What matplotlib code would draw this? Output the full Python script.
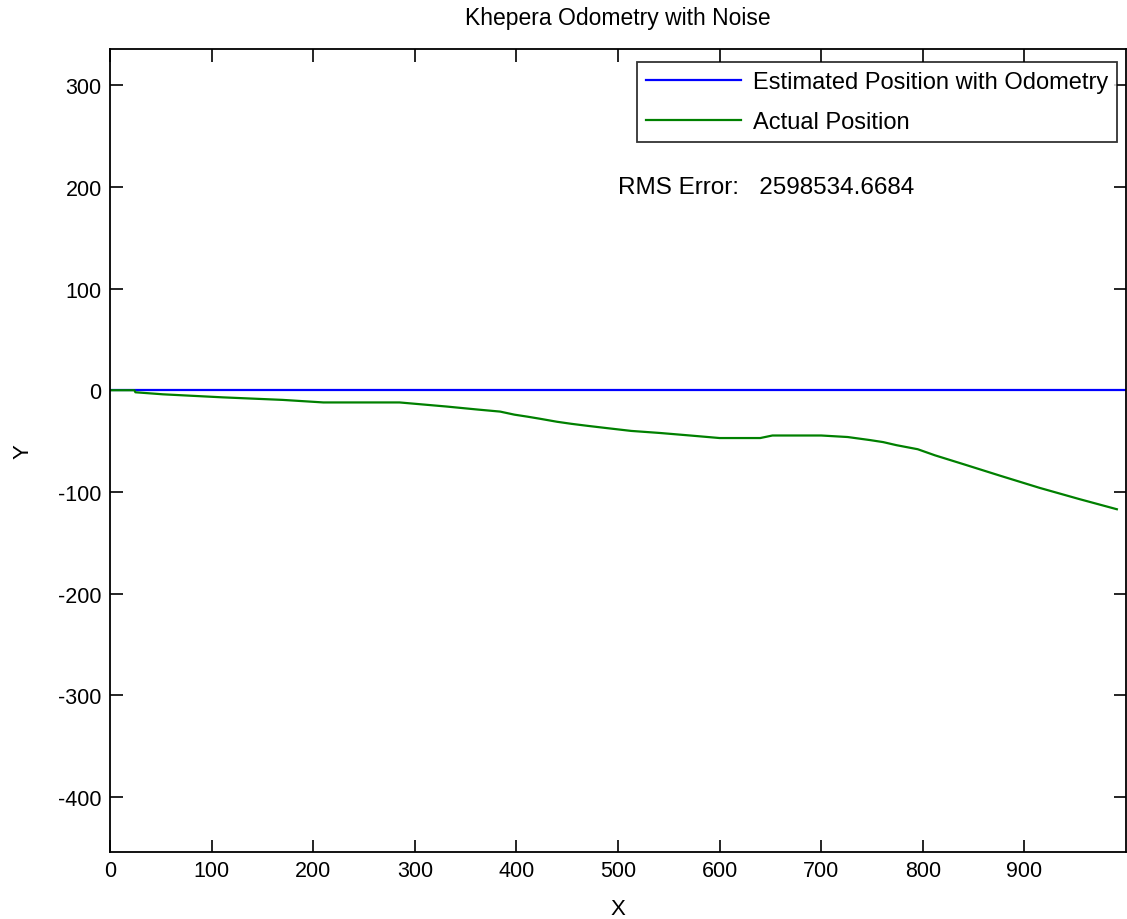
import matplotlib
matplotlib.use("Agg")
import matplotlib.pyplot as plt
import numpy as np

# Odometry estimate (straight line) and actual robot path
est_x = [0, 1000]
est_y = [0, 0]

act_x = [0, 24, 25, 52, 111, 170, 210, 285, 308, 331, 362, 384, 398, 411, 423,
         440, 454, 470, 487, 513, 541, 571, 600, 640, 652, 700, 726, 748, 761,
         774, 795, 812, 841, 876, 915, 954, 991]
act_y = [0, 0, -2, -4, -7, -9.5, -12, -12, -14, -16, -19, -21, -24, -26, -28,
         -31, -33, -35, -37, -40, -42, -44.5, -47, -47, -44.5, -44.5, -46, -49, -51,
         -54, -58, -64, -73, -84, -96, -107, -117]

x_ticks = [0, 100, 200, 300, 400, 500, 600, 700, 800, 900]
y_ticks = [-400, -300, -200, -100, 0, 100, 200, 300]

rms_error = 2598534.6684

plt.rcParams["font.family"] = ["Liberation Sans", "DejaVu Sans"]
plt.rcParams["axes.unicode_minus"] = False

W, H = 1127, 920
fig = plt.figure(figsize=(W / 100, H / 100), dpi=100)
ax = fig.add_axes([110 / W, (H - 853) / H, 1016 / W, 803 / H])

ax.plot(est_x, est_y, color=(0, 0, 1), lw=1.6, label="Estimated Position with Odometry")
ax.plot(act_x, act_y, color=(0, 0.5, 0), lw=1.6, label="Actual Position")

ax.set_xlim(0, 1000)
ax.set_ylim(-454, 335.5)
ax.set_xticks(x_ticks)
ax.set_yticks(y_ticks)
ax.tick_params(direction="in", length=9, width=1.2, top=True, right=True,
               labelsize=15.5, pad=6)
for s in ax.spines.values():
    s.set_linewidth(1.3)

ax.set_title("Khepera Odometry with Noise", fontsize=16.5, pad=18)
ax.set_xlabel("X", fontsize=16, labelpad=12)
ax.set_ylabel("Y", fontsize=16, labelpad=18)

ax.text(500, 200, f"RMS Error:   {rms_error:.4f}", fontsize=17.5,
        ha="left", va="center")

leg = ax.legend(loc="upper right", bbox_to_anchor=(0.9915, 0.984), fontsize=17,
                frameon=True, fancybox=False, edgecolor="black",
                handlelength=4.0, handletextpad=0.5, borderpad=0.4,
                labelspacing=0.75, borderaxespad=0)
leg.get_frame().set_linewidth(1.3)

fig.savefig("out.png", dpi=100)
